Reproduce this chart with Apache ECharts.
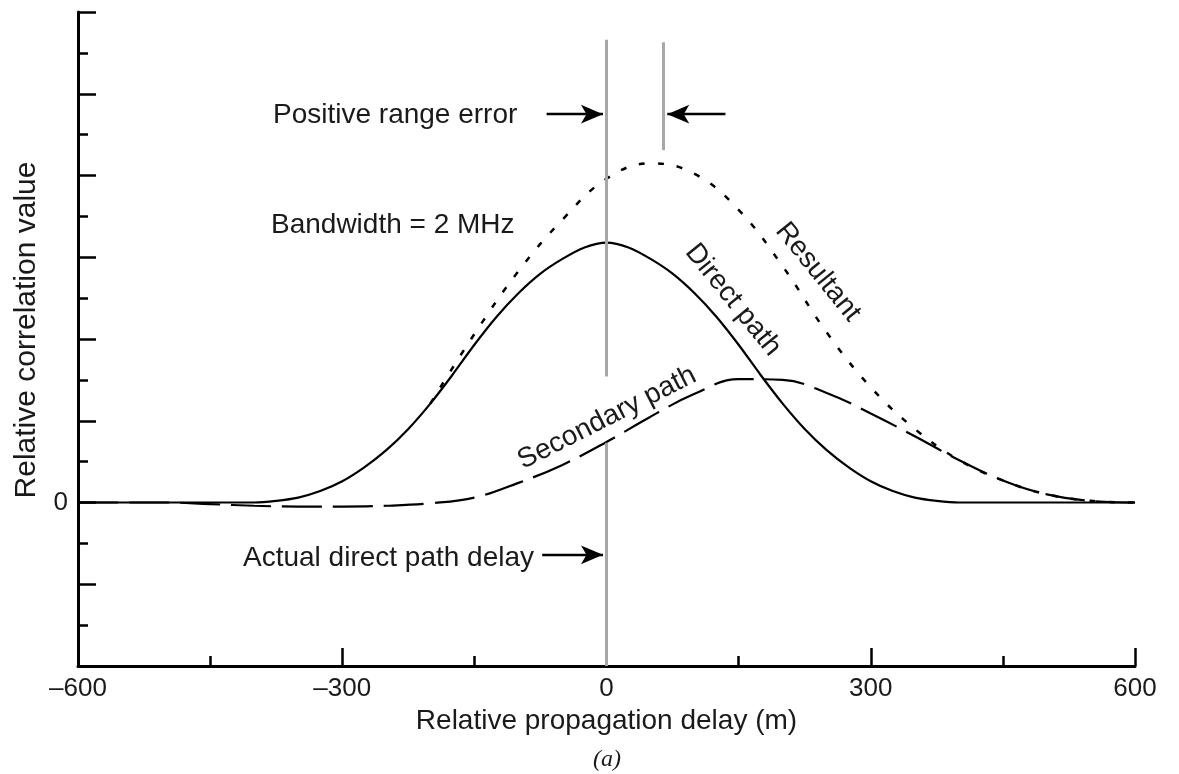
<!DOCTYPE html>
<html>
<head>
<meta charset="utf-8">
<script src="https://cdn.jsdelivr.net/npm/echarts@6/dist/echarts.min.js"></script>
<style>
  html, body { margin: 0; background: #fff; }
  #chart { width: 1179px; height: 774px; }
</style>
</head>
<body>
<div id="chart"></div>
<script>
// relative propagation delay (m)
const directDelays = [-600, -500, -425, -400, -375, -350, -325, -300, -275, -250, -225, -200, -175,
  -150, -125, -100, -75, -50, -25, 0, 25, 50, 75, 100, 125, 150, 175, 200, 225, 250, 275,
  300, 325, 350, 375, 400, 425, 500, 600];
const delays = [-600, -550, -500, -450, -400, -350, -300, -250, -200, -150, -100, -50,
  0, 50, 100, 150, 200, 250, 300, 350, 400, 450, 500, 550, 600];

// relative correlation values
const directPath = [0, 0, 0, 0, 0.002, 0.006, 0.014, 0.026, 0.043, 0.064, 0.090, 0.121, 0.156,
  0.193, 0.227, 0.256, 0.280, 0.298, 0.312, 0.318, 0.312, 0.298, 0.280, 0.256, 0.227, 0.193, 0.156,
  0.121, 0.090, 0.064, 0.043, 0.026, 0.014, 0.006, 0.002, 0, 0, 0, 0];
const secondaryPath = [0, 0, 0, -0.002, -0.004, -0.005, -0.005, -0.004, -0.001, 0.006, 0.024, 0.046,
  0.074, 0.105, 0.133, 0.151, 0.150, 0.134, 0.109, 0.081, 0.052, 0.027, 0.010, 0.002, 0];
const resultant = [null, null, null, null, null, null, null, null, 0.121, 0.206, 0.283, 0.346,
  0.396, 0.415, 0.402, 0.358, 0.289, 0.208, 0.141, 0.090, 0.052, 0.027, 0.010, 0.002, 0];

const fontFamily = '"Liberation Sans", Arial, sans-serif';
const ink = "#1a1a1a";

function pairs(xs, values) {
  return xs
    .map((d, i) => [d, values[i]])
    .filter(p => p[1] !== null);
}

function note(text, x, y, extra) {
  return Object.assign(
    {
      type: "text",
      x: x,
      y: y,
      style: { text, fontFamily, fontSize: 28, fill: ink, textAlign: "left", textVerticalAlign: "middle" }
    },
    extra || {}
  );
}

const chart = echarts.init(document.getElementById("chart"));

const option = {
  backgroundColor: "#fff",
  animation: false,
  grid: {
    left: 78,
    right: 44,
    top: 12,
    bottom: 108,
    containLabel: false,
    outerBoundsMode: "none"
  },
  xAxis: {
    type: "value",
    min: -600,
    max: 600,
    interval: 300,
    name: "Relative propagation delay (m)",
    nameLocation: "middle",
    nameGap: 38,
    nameTextStyle: { fontFamily, fontSize: 28, color: ink },
    axisLine: { onZero: false, lineStyle: { color: "#000", width: 3 } },
    axisTick: { inside: true, length: 18, lineStyle: { color: "#000", width: 2.5 } },
    minorTick: { show: true, splitNumber: 2, length: 10, lineStyle: { color: "#000", width: 2.5 } },
    splitLine: { show: false },
    axisLabel: {
      fontFamily,
      fontSize: 26,
      color: ink,
      margin: 10,
      formatter: v => (v < 0 ? "\u2013" + Math.abs(v) : String(v))
    }
  },
  yAxis: {
    type: "value",
    min: -0.2,
    max: 0.6,
    interval: 0.1,
    name: "Relative correlation value",
    nameLocation: "middle",
    nameRotate: 90,
    nameGap: 36,
    nameTextStyle: { fontFamily, fontSize: 30, color: ink, padding: [0, 0, 0, 18] },
    axisLine: { show: true, onZero: false, lineStyle: { color: "#000", width: 3 } },
    axisTick: { show: true, inside: true, length: 18, lineStyle: { color: "#000", width: 2.5 } },
    minorTick: { show: true, splitNumber: 2, length: 10, lineStyle: { color: "#000", width: 2.5 } },
    splitLine: { show: false },
    axisLabel: {
      fontFamily,
      fontSize: 26,
      color: ink,
      margin: 10,
      formatter: v => (Math.abs(v) < 1e-9 ? "0" : "")
    }
  },
  series: [
    {
      name: "Direct path",
      type: "line",
      data: pairs(directDelays, directPath),
      smooth: 0.3,
      symbol: "none",
      z: 3,
      lineStyle: { color: "#000", width: 2.2 },
      markLine: {
        silent: true,
        symbol: ["none", "none"],
        label: { show: false },
        lineStyle: { color: "#a8a8a8", width: 3, type: "solid" },
        data: [
          [{ coord: [0, 0.566] }, { coord: [0, 0.154] }],
          [{ coord: [0, 0.073] }, { coord: [0, -0.2] }],
          [{ coord: [64.5, 0.563] }, { coord: [64.5, 0.431] }]
        ]
      }
    },
    {
      name: "Secondary path",
      type: "line",
      data: pairs(delays, secondaryPath),
      smooth: 0.4,
      symbol: "none",
      z: 3,
      lineStyle: { color: "#000", width: 2.2, type: [40, 11] }
    },
    {
      name: "Resultant",
      type: "line",
      data: pairs(delays, resultant),
      smooth: 0.4,
      symbol: "none",
      z: 3,
      lineStyle: { color: "#000", width: 2.5, type: [6, 13] },
      markLine: {
        silent: true,
        symbol: ["none", "arrow"],
        symbolSize: [14, 22],
        label: { show: false },
        lineStyle: { color: "#000", width: 2.4, type: "solid" },
        data: [
          [{ coord: [-68, 0.475] }, { coord: [-4, 0.475] }],
          [{ coord: [135, 0.475] }, { coord: [69, 0.475] }],
          [{ coord: [-73, -0.064] }, { coord: [-4, -0.064] }]
        ]
      }
    }
  ],
  graphic: [
    note("Positive range error", 273, 115),
    note("Bandwidth = 2 MHz", 271, 225),
    note("Actual direct path delay", 243, 558),
    note("Direct path", 733, 300, { rotation: -0.89 }),
    note("Resultant", 818, 272, { rotation: -0.89 }),
    note("Secondary path", 607, 418, { rotation: 0.47 }),
    {
      type: "text", x: 607, y: 760,
      style: { text: "(a)", fontFamily: '"Liberation Serif", serif', fontStyle: "italic", fontSize: 24, fill: ink, textAlign: "center", textVerticalAlign: "middle" }
    }
  ]
};

// rotated labels are centred on their anchor
option.graphic.slice(3, 6).forEach(g => { g.style.textAlign = "center"; });

chart.setOption(option);
</script>
</body>
</html>
